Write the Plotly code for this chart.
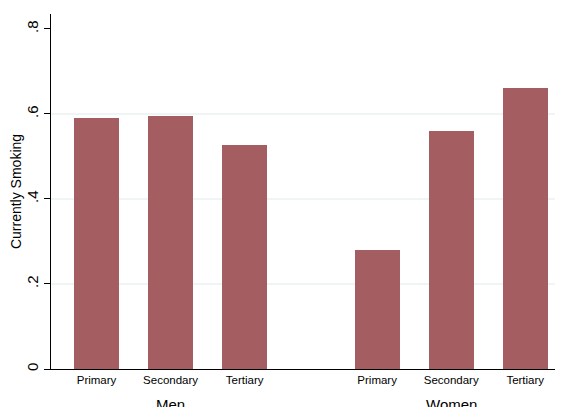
import plotly.graph_objects as go

education = ["Primary", "Secondary", "Tertiary"]
groups = ["Men", "Women"]
men_values = [0.591, 0.596, 0.528]
women_values = [0.280, 0.560, 0.661]
group_gap = 1.79  # position offset of the second group (in bar slots)

y_tickvals = [0, 0.2, 0.4, 0.6, 0.8]
y_ticktext = ["0", ".2", ".4", ".6", ".8"]
grid_values = [0.2, 0.4, 0.6]

bar_color = "#a45e61"

x_men = [i for i in range(len(education))]
x_women = [len(education) - 1 + group_gap + i for i in range(len(education))]

fig = go.Figure()
fig.add_trace(go.Bar(x=x_men + x_women, y=men_values + women_values,
                     marker=dict(color=bar_color, line=dict(width=0)),
                     width=0.61, showlegend=False))

# the page body has an 8px margin, so the figure starts at (8, 8)
off = 8
W, H = 563 - off, 407 - off
ml, mr, mt, mb = 51 - off, 0, 14 - off, 37.5
plot_h = H - mt - mb

for g in grid_values:
    fig.add_shape(type="line", xref="paper", yref="y", x0=0, x1=1, y0=g, y1=g,
                  line=dict(color="#eaf0f2", width=1.5), layer="below")

annotations = []
centers = [x_men[1], x_women[1]]
for name, c in zip(groups, centers):
    annotations.append(dict(text=name, x=c, xref="x", y=-(405 - 369.5) / plot_h,
                            yref="paper", yanchor="middle", showarrow=False,
                            font=dict(size=15, color="#000000")))

fig.update_layout(
    width=W, height=H,
    margin=dict(l=ml, r=mr, t=mt, b=mb, pad=0, autoexpand=False),
    paper_bgcolor="white", plot_bgcolor="white",
    font=dict(family="Liberation Sans, Arial, sans-serif", color="#000000"),
    bargap=0,
    annotations=annotations,
    xaxis=dict(range=[-0.615, 6.30], tickvals=x_men + x_women,
               ticktext=education + education, showgrid=False, zeroline=False,
               showline=True, linecolor="#000000", linewidth=1, ticks="",
               tickfont=dict(size=11.5), fixedrange=True, automargin=False),
    yaxis=dict(range=[0, 0.835], tickvals=y_tickvals, ticktext=y_ticktext,
               tickangle=-90, showgrid=False, zeroline=False, showline=True,
               linecolor="#000000", linewidth=1, ticks="outside", ticklen=6,
               tickcolor="#000000", tickfont=dict(size=15), automargin=False,
               title=dict(text="Currently Smoking", font=dict(size=14), standoff=4)),
)

fig.write_html("out.html")
